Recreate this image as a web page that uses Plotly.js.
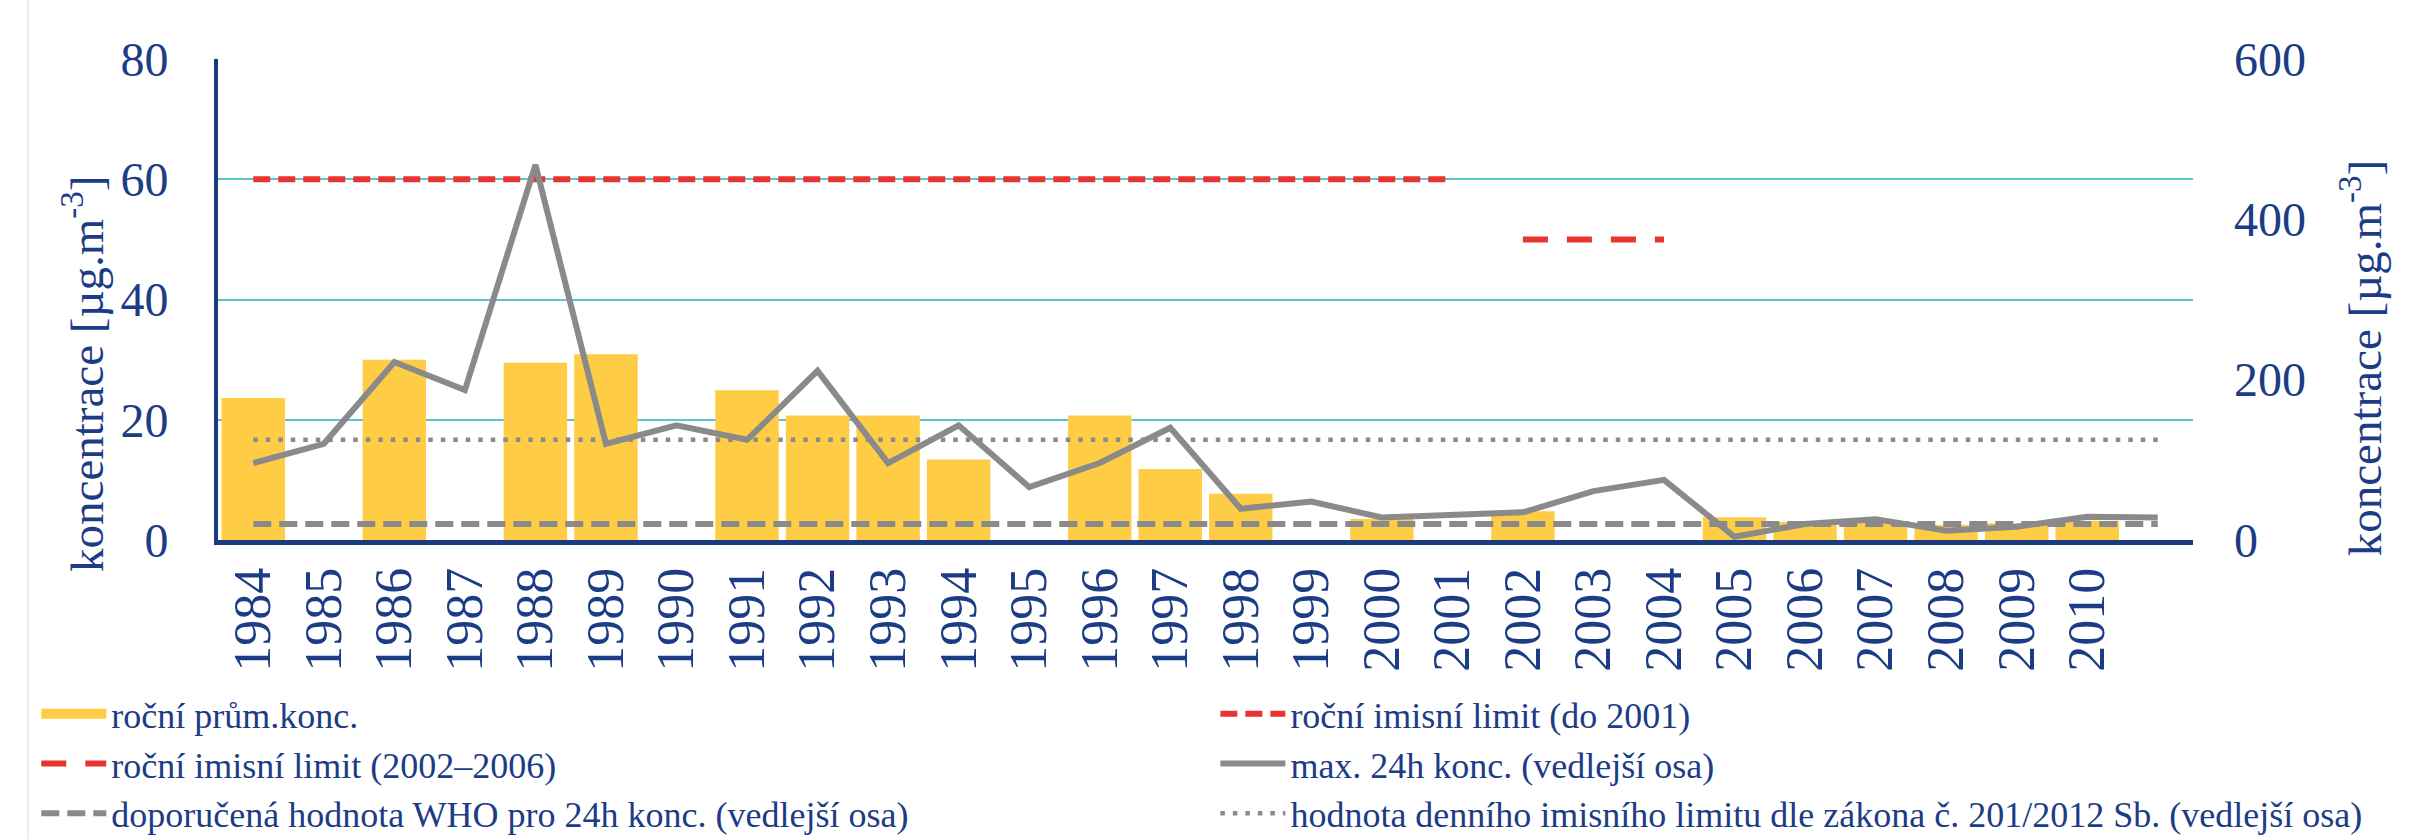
<!DOCTYPE html>
<html>
<head>
<meta charset="utf-8">
<script src="https://cdn.plot.ly/plotly-3.0.1.min.js"></script>
<style>html,body{margin:0;padding:0;background:#fff;}#chart{width:2428px;height:839px;}</style>
</head>
<body>
<div id="chart"></div>
<script>
// ---- data ----
var years = [1984,1985,1986,1987,1988,1989,1990,1991,1992,1993,1994,1995,1996,1997,1998,1999,2000,2001,2002,2003,2004,2005,2006,2007,2008,2009,2010,2011];
var tickYears = [1984,1985,1986,1987,1988,1989,1990,1991,1992,1993,1994,1995,1996,1997,1998,1999,2000,2001,2002,2003,2004,2005,2006,2007,2008,2009,2010];
var tickLabels = ["1984","1985","1986","1987","1988","1989","1990","1991","1992","1993","1994","1995","1996","1997","1998","1999","2000","2001","2002","2003","2004","2005","2006","2007","2008","2009","2010"];
var annualMean = [23.6,null,30.0,null,29.5,30.9,null,24.9,20.7,20.7,13.4,null,20.7,11.8,7.7,null,3.5,null,4.8,null,null,3.8,3.0,3.1,2.5,2.8,3.2,null];
var max24h = [96,120,222,187,468,120,143,125,211,96,143,66,96,140,39,48,28,32,34.5,61,75,4,20,26,11.6,16.6,29,28];
var limitOldYears = [1984,2001];
var limitOldValues = [60,60];
var limitNewYears = [2002,2004];
var limitNewValues = [50,50];
var refYears = [1984,2011];
var whoValues = [20,20];
var dailyLimitValues = [125,125];
var yTicks = [0,20,40,60,80];
var y2Ticks = [0,200,400,600];
var axisTitle = "koncentrace [µg.m<sup>-3</sup>]";
var names = {
  bar: "roční prům.konc.",
  limOld: "roční imisní limit (do 2001)",
  limNew: "roční imisní limit (2002–2006)",
  max: "max. 24h konc. (vedlejší osa)",
  who: "doporučená hodnota WHO pro 24h konc. (vedlejší osa)",
  daily: "hodnota denního imisního limitu dle zákona č. 201/2012 Sb. (vedlejší osa)"
};

// ---- style ----
var navy = "#1c3c86";
var axisNavy = "#1b3a80";
var yellow = "#ffcd45";
var grid = "#5bc3d3";
var gray = "#8a8a8a";
var red = "#e8332f";
var fontFam = "Liberation Serif, Times New Roman, serif";

var traces = [
  {type:"bar", x:years, y:annualMean, marker:{color:yellow}, name:names.bar, showlegend:false, legendgroup:"bar"},
  {type:"scatter", mode:"lines", x:[null], y:[null], name:names.bar, legend:"legend", legendgroup:"bar", line:{color:yellow, width:10}},
  {type:"scatter", mode:"lines", x:limitOldYears, y:limitOldValues, name:names.limOld, legend:"legend2", line:{color:red, width:6, dash:"17px,8px"}},
  {type:"scatter", mode:"lines", x:limitNewYears, y:limitNewValues, name:names.limNew, legend:"legend", line:{color:red, width:6, dash:"25px,19px"}},
  {type:"scatter", mode:"lines", x:years, y:max24h, yaxis:"y2", name:names.max, legend:"legend2", line:{color:gray, width:6}},
  {type:"scatter", mode:"lines", x:refYears, y:whoValues, yaxis:"y2", name:names.who, legend:"legend", line:{color:gray, width:6, dash:"18px,8px"}},
  {type:"scatter", mode:"lines", x:refYears, y:dailyLimitValues, yaxis:"y2", name:names.daily, legend:"legend2", line:{color:gray, width:4.5, dash:"4.5px,8px"}}
];

var legendCommon = {
  orientation:"v", xanchor:"left", yanchor:"top", y:-0.299,
  font:{family:fontFam, size:36, color:navy},
  itemwidth:65, bgcolor:"rgba(0,0,0,0)", traceorder:"normal", tracegroupgap:0
};

var layout = {
  width:2428, height:839,
  margin:{l:218, r:235, t:59, b:299, pad:0, autoexpand:false},
  paper_bgcolor:"#ffffff", plot_bgcolor:"#ffffff",
  font:{family:fontFam, color:navy},
  bargap:0.1,
  showlegend:true,
  xaxis:{
    range:[1983.5, 2011.5], tickmode:"array", tickvals:tickYears, ticktext:tickLabels,
    tickangle:-90, tickfont:{family:fontFam, size:52, color:navy},
    showgrid:false, zeroline:false, showline:true, linecolor:axisNavy, linewidth:5,
    ticks:"", ticklabelstandoff:2, fixedrange:true
  },
  yaxis:{
    range:[0,80], tickmode:"array", tickvals:yTicks,
    tickfont:{family:fontFam, size:48, color:navy},
    showgrid:true, gridcolor:grid, gridwidth:2, zeroline:false,
    showline:true, linecolor:axisNavy, linewidth:4, ticks:"", ticklabelstandoff:36
  },
  yaxis2:{
    range:[0,600], tickmode:"array", tickvals:y2Ticks, overlaying:"y", side:"right",
    tickfont:{family:fontFam, size:48, color:navy},
    showgrid:false, zeroline:false, showline:false, ticks:"", ticklabelstandoff:40
  },
  annotations:[
    {text:axisTitle, xref:"paper", yref:"paper", x:-0.0684, y:0.345, xanchor:"center", yanchor:"middle", textangle:-90, showarrow:false, font:{family:fontFam, size:47, color:navy}},
    {text:axisTitle, xref:"paper", yref:"paper", x:1.0851, y:0.378, xanchor:"center", yanchor:"middle", textangle:-90, showarrow:false, font:{family:fontFam, size:47, color:navy}}
  ],
  legend: Object.assign({}, legendCommon, {x:-0.092}),
  legend2: Object.assign({}, legendCommon, {x:0.505}),
  shapes:[
    {type:"line", xref:"paper", yref:"paper", x0:-0.0962, x1:-0.0962, y0:-0.63, y1:1.13, line:{color:"#dcdcdc", width:1}}
  ]
};

Plotly.newPlot("chart", traces, layout, {displayModeBar:false, staticPlot:true});
</script>
</body>
</html>
